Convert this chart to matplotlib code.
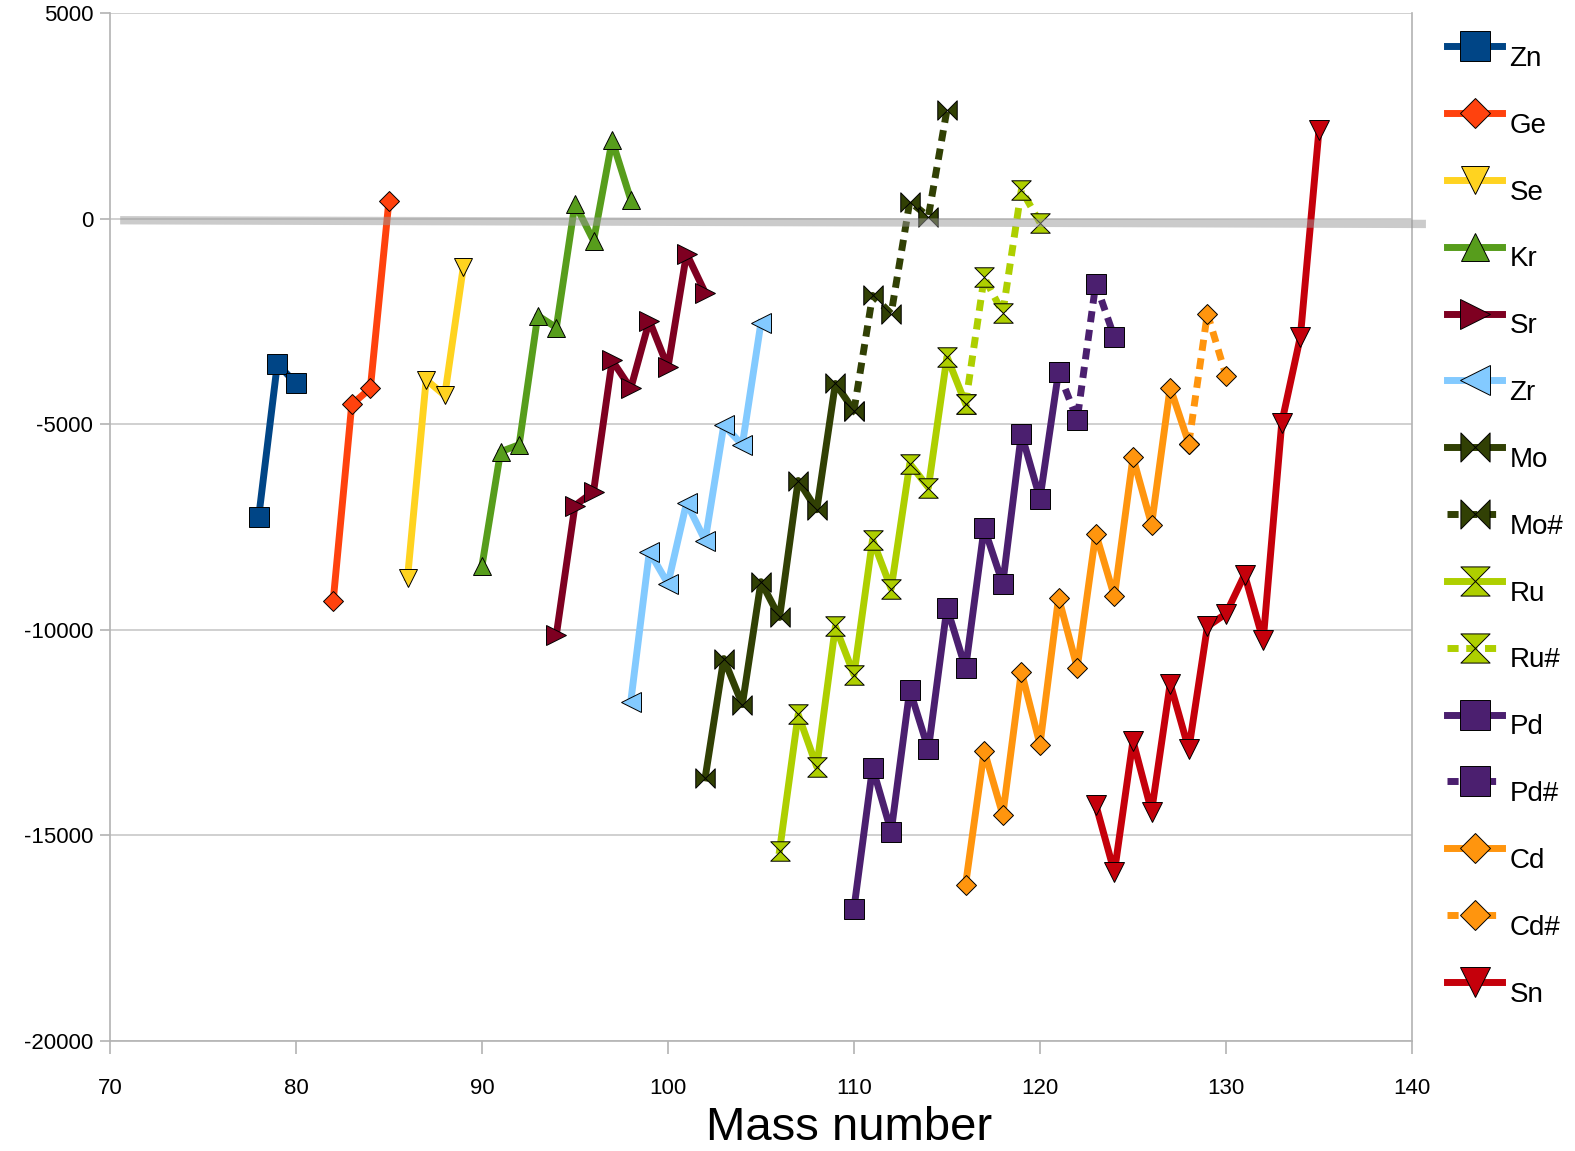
import numpy as np
import matplotlib
matplotlib.use("Agg")
import matplotlib.pyplot as plt
import matplotlib.transforms as mtransforms
from matplotlib.path import Path

plt.rcParams['font.family'] = ['Liberation Sans', 'DejaVu Sans']

# mass numbers and values
zn_a = [78, 79, 80]
zn = [-7250, -3530, -4010]
ge_a = [82, 83, 84, 85]
ge = [-9310, -4520, -4130, 440]
se_a = [86, 87, 88, 89]
se = [-8730, -3920, -4300, -1170]
kr_a = [90, 91, 92, 93, 94, 95, 96, 97, 98]
kr = [-8450, -5670, -5500, -2360, -2650, 360, -540, 1900, 460]
sr_a = [94, 95, 96, 97, 98, 99, 100, 101, 102]
sr = [-10120, -6980, -6640, -3450, -4130, -2480, -3620, -850, -1800]
zr_a = [98, 99, 100, 101, 102, 103, 104, 105]
zr = [-11750, -8100, -8880, -6910, -7830, -5030, -5500, -2530]
mo_a = [102, 103, 104, 105, 106, 107, 108, 109, 110]
mo = [-13600, -10700, -11820, -8830, -9700, -6370, -7080, -4010, -4670]
mo2_a = [110, 111, 112, 113, 114, 115]
mo2 = [-4670, -1870, -2310, 410, 50, 2650]
ru_a = [106, 107, 108, 109, 110, 111, 112, 113, 114, 115, 116]
ru = [-15370, -12060, -13330, -9920, -11090, -7810, -9000, -5960, -6540, -3360, -4500]
ru2_a = [116, 117, 118, 119, 120]
ru2 = [-4500, -1430, -2290, 700, -100]
pd_a = [110, 111, 112, 113, 114, 115, 116, 117, 118, 119, 120, 121]
pd = [-16780, -13350, -14910, -11460, -12910, -9460, -10940, -7520, -8880, -5230, -6810, -3720]
pd2_a = [121, 122, 123, 124]
pd2 = [-3720, -4890, -1580, -2890]
cd_a = [116, 117, 118, 119, 120, 121, 122, 123, 124, 125, 126, 127, 128]
cd = [-16200, -12940, -14500, -11020, -12790, -9220, -10920, -7660, -9190, -5810, -7440, -4110, -5470]
cd2_a = [128, 129, 130]
cd2 = [-5470, -2310, -3820]
sn_a = [123, 124, 125, 126, 127, 128, 129, 130, 131, 132, 133, 134, 135]
sn = [-14250, -15900, -12700, -14420, -11310, -12910, -9920, -9610, -8660, -10260, -4960, -2870, 2160]

zero_x = [70.55, 140.75]
zero_y = [-40, -130]

# bowtie / hourglass symbols
bowtie = Path([(-1, -1), (1, 1), (1, -1), (-1, 1), (-1, -1)],
              [Path.MOVETO, Path.LINETO, Path.LINETO, Path.LINETO, Path.CLOSEPOLY])
hourglass = Path([(-1, 1), (1, 1), (-1, -1), (1, -1), (-1, 1)],
                 [Path.MOVETO, Path.LINETO, Path.LINETO, Path.LINETO, Path.CLOSEPOLY])

series = [
    ("Zn", zn_a, zn, "#004586", "s", 14, False),
    ("Ge", ge_a, ge, "#ff420e", "D", 10, False),
    ("Se", se_a, se, "#ffd320", "v", 13, False),
    ("Kr", kr_a, kr, "#579d1c", "^", 13, False),
    ("Sr", sr_a, sr, "#7e0021", ">", 14, False),
    ("Zr", zr_a, zr, "#83caff", "<", 14, False),
    ("Mo", mo_a, mo, "#314004", bowtie, 14, False),
    ("Mo#", mo2_a, mo2, "#314004", bowtie, 14, True),
    ("Ru", ru_a, ru, "#aecf00", hourglass, 14, False),
    ("Ru#", ru2_a, ru2, "#aecf00", hourglass, 14, True),
    ("Pd", pd_a, pd, "#4b1f6f", "s", 14, False),
    ("Pd#", pd2_a, pd2, "#4b1f6f", "s", 14, True),
    ("Cd", cd_a, cd, "#ff950e", "D", 10, False),
    ("Cd#", cd2_a, cd2, "#ff950e", "D", 10, True),
    ("Sn", sn_a, sn, "#c5000b", "v", 14, False),
]

fig = plt.figure(figsize=(15.75, 11.51), dpi=100)
ax = fig.add_axes([0.0698, 0.0956, 0.8267, 0.8931])

for label, x, y, color, marker, ms, dashed in series:
    ax.plot(x, y, color=color, lw=5, marker=marker, markersize=ms,
            markerfacecolor=color, markeredgecolor="black", markeredgewidth=0.7,
            linestyle=(0, (1.6, 1.1)) if dashed else "-",
            dash_capstyle="butt", solid_joinstyle="round", dash_joinstyle="round",
            label=label, zorder=3)

ax.plot(zero_x, zero_y, color="#999999", alpha=0.5, lw=6, zorder=5,
        clip_on=False, solid_capstyle="butt", label="_nolegend_")

ax.set_xlim(70, 140)
ax.set_ylim(-20000, 5000)
ax.set_xticks([70, 80, 90, 100, 110, 120, 130, 140])
ax.set_yticks([-20000, -15000, -10000, -5000, 0, 5000])
ax.set_yticklabels(["-20000", "-15000", "-10000", "-5000", "0", "5000"])
ax.yaxis.grid(True, color="#c8c8c8", lw=1.2)
ax.set_axisbelow(True)
for s in ax.spines.values():
    s.set_color("#b3b3b3")
    s.set_linewidth(1.2)
ax.spines["top"].set_visible(False)
ax.tick_params(axis="x", direction="out", length=9, width=1.2, color="#b3b3b3",
               labelsize=16, pad=18)
ax.tick_params(axis="y", direction="out", length=7, width=1.2, color="#b3b3b3",
               labelsize=16, pad=5)

ax.set_xlabel("Mass number", fontsize=34, va="baseline")
ax.xaxis.set_label_coords(0.5676, -0.0963)

leg = ax.legend(loc="upper left", bbox_to_anchor=(1433 / 1575, 1 - 22 / 1151),
                bbox_transform=fig.transFigure, frameon=False, fontsize=20,
                handlelength=2.0, handletextpad=0.25, labelspacing=1.47,
                markerscale=1.5, borderpad=0)
shift = mtransforms.ScaledTranslation(0, -0.1, fig.dpi_scale_trans)
for t in leg.get_texts():
    t.set_transform(t.get_transform() + shift)

fig.savefig("out.png", dpi=100)
